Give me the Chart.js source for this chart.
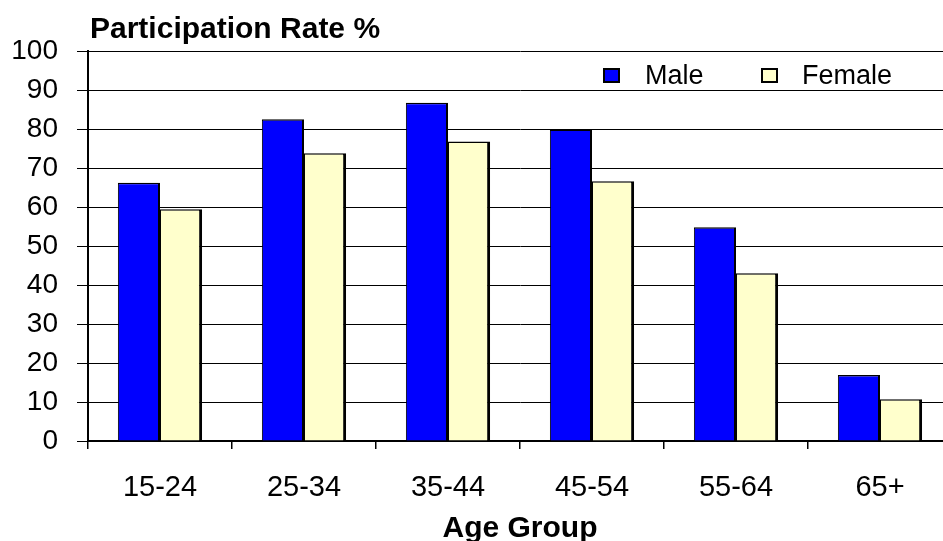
<!DOCTYPE html>
<html>
<head>
<meta charset="utf-8">
<script src="https://cdn.jsdelivr.net/npm/chart.js@4.4.1/dist/chart.umd.min.js"></script>
<style>
  html, body { margin: 0; padding: 0; background: #fff; overflow: hidden; }
  #wrap { width: 955px; height: 541px; position: relative; }
</style>
</head>
<body>
<div id="wrap"><canvas id="chart" width="955" height="541"></canvas></div>
<script>
// Labour force participation by age group
const ageGroups = ['15-24', '25-34', '35-44', '45-54', '55-64', '65+'];
const maleRates = [66.2, 82.5, 86.7, 79.9, 54.8, 16.9];
const femaleRates = [59.4, 73.8, 76.8, 66.6, 43.0, 10.7];
const seriesNames = ['Male', 'Female'];
const yTitle = 'Participation Rate %';
const xTitle = 'Age Group';

const FONT = '"Liberation Sans", Arial, sans-serif';

// Heading above the plot and the boxed legend in the upper right
const annotations = {
  id: 'annotations',
  afterDraw(chart) {
    const ctx = chart.ctx;
    ctx.save();
    ctx.fillStyle = '#000';
    ctx.font = 'bold 30px ' + FONT;
    ctx.textBaseline = 'alphabetic';
    ctx.textAlign = 'left';
    ctx.fillText(yTitle, 90, 38);

    const items = [
      { box: 603, text: 645 },
      { box: 761, text: 802 }
    ];
    chart.data.datasets.forEach((ds, i) => {
      const it = items[i];
      ctx.fillStyle = ds.backgroundColor;
      ctx.fillRect(it.box, 68, 17, 15);
      ctx.lineWidth = 2;
      ctx.strokeStyle = '#000';
      ctx.strokeRect(it.box + 1, 69, 15, 13);
      ctx.fillStyle = '#000';
      ctx.font = '27px ' + FONT;
      ctx.fillText(ds.label, it.text, 84);
    });
    ctx.restore();
  }
};

new Chart(document.getElementById('chart'), {
  type: 'bar',
  data: {
    labels: ageGroups,
    datasets: [
      {
        label: seriesNames[0],
        data: maleRates,
        backgroundColor: '#0000FF',
        borderColor: '#000',
        borderWidth: { left: 1, top: 1.5, right: 2, bottom: 0 },
        borderSkipped: 'bottom'
      },
      {
        label: seriesNames[1],
        data: femaleRates,
        backgroundColor: '#FFFFCC',
        borderColor: '#000',
        borderWidth: { left: 1, top: 1.5, right: 3, bottom: 0 },
        borderSkipped: 'bottom'
      }
    ]
  },
  options: {
    responsive: false,
    animation: false,
    devicePixelRatio: 1,
    layout: { padding: { top: 51, right: 3, left: 0, bottom: 0 } },
    datasets: { bar: { categoryPercentage: 0.585, barPercentage: 1.0 } },
    plugins: {
      legend: { display: false },
      title: { display: false },
      tooltip: { enabled: false }
    },
    scales: {
      x: {
        offset: true,
        grid: {
          display: true,
          offset: true,
          drawOnChartArea: false,
          drawTicks: true,
          tickLength: 8,
          color: '#000',
          lineWidth: 1.5
        },
        border: { display: true, color: '#000', width: 2 },
        ticks: {
          color: '#000',
          font: { family: FONT, size: 29 },
          padding: 22,
          maxRotation: 0
        },
        title: {
          display: true,
          text: xTitle,
          color: '#000',
          font: { family: FONT, size: 30, weight: 'bold' },
          padding: { top: 0, bottom: -6 }
        },
        afterFit(s) { s.height = 100; }
      },
      y: {
        min: 0,
        max: 100,
        ticks: {
          stepSize: 10,
          color: '#000',
          font: { family: FONT, size: 28 },
          padding: 19
        },
        grid: {
          color: '#000',
          lineWidth: 1,
          tickLength: 11,
          drawTicks: true
        },
        border: { display: true, color: '#000', width: 2 },
        afterFit(s) { s.width = 88; }
      }
    }
  },
  plugins: [annotations]
});
</script>
</body>
</html>
